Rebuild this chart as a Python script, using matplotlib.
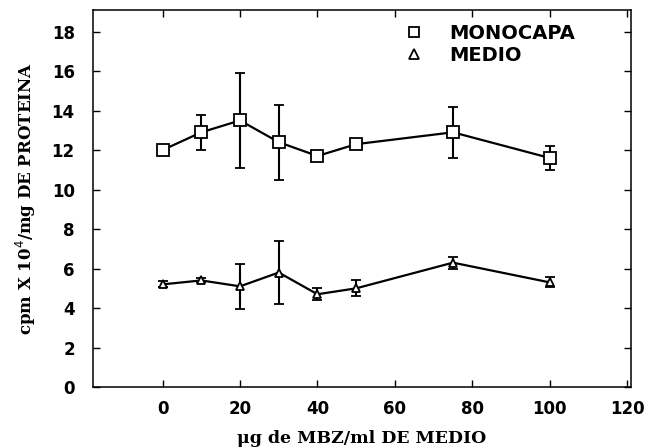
import matplotlib
matplotlib.use("Agg")
import matplotlib.pyplot as plt
from matplotlib.lines import Line2D

# MBZ concentration (ug/ml of medium)
dose = [0, 10, 20, 30, 40, 50, 75, 100]

# cpm x 10^4 / mg protein
monocapa = [12.0, 12.9, 13.5, 12.4, 11.7, 12.3, 12.9, 11.6]
monocapa_err = [0.1, 0.9, 2.4, 1.9, 0.25, 0.1, 1.3, 0.6]

medio = [5.2, 5.4, 5.1, 5.8, 4.7, 5.0, 6.3, 5.3]
medio_err = [0.15, 0.1, 1.15, 1.6, 0.3, 0.4, 0.3, 0.25]

x_ticks = [0, 20, 40, 60, 80, 100, 120]
y_ticks = list(range(0, 20, 2))

fig = plt.figure(figsize=(6.54, 4.48), dpi=100)
ax = fig.add_axes([0.142, 0.136, 0.823, 0.842])

tick_font = {"family": "DejaVu Sans", "weight": "bold", "size": 12}

ax.errorbar(dose, monocapa, yerr=monocapa_err, color="black", lw=1.6,
            marker="s", markersize=8.5, markerfacecolor="white",
            markeredgewidth=1.3, capsize=3.8, elinewidth=1.5, capthick=1.5)
ax.errorbar(dose, medio, yerr=medio_err, color="black", lw=1.6,
            marker="^", markersize=6, markerfacecolor="white",
            markeredgewidth=1.3, capsize=3.8, elinewidth=1.5, capthick=1.5)

ax.set_xlim(-18, 121)
ax.set_ylim(0, 19.1)
ax.set_xticks(x_ticks)
ax.set_yticks(y_ticks)
ax.tick_params(axis="y", direction="in", length=5, width=1, right=True, pad=13)
ax.tick_params(axis="x", direction="in", length=5, width=1, top=True, pad=9)
for lbl in ax.get_xticklabels() + ax.get_yticklabels():
    lbl.set_fontfamily(tick_font["family"])
    lbl.set_fontweight(tick_font["weight"])
    lbl.set_fontsize(tick_font["size"])
for spine in ax.spines.values():
    spine.set_linewidth(1.1)

ax.set_xlabel("\u03bcg de MBZ/ml DE MEDIO", family="DejaVu Serif",
              weight="heavy", size=12.5, labelpad=9)
ax.set_ylabel("cpm X 10$^{4}$/mg DE PROTEINA", family="DejaVu Serif",
              weight="heavy", size=12, labelpad=10)

handles = [
    Line2D([], [], color="black", marker="s", markersize=7,
           markerfacecolor="white", linestyle="none", markeredgewidth=1.3),
    Line2D([], [], color="black", marker="^", markersize=7,
           markerfacecolor="white", linestyle="none", markeredgewidth=1.3),
]
ax.legend(handles, ["MONOCAPA", "MEDIO"], loc="upper left",
          bbox_to_anchor=(0.535, 1.01), frameon=False, handletextpad=1.0,
          handlelength=1.6, labelspacing=0.15,
          prop={"family": "DejaVu Sans", "weight": "bold", "size": 14})

fig.savefig("out.png", dpi=100)
